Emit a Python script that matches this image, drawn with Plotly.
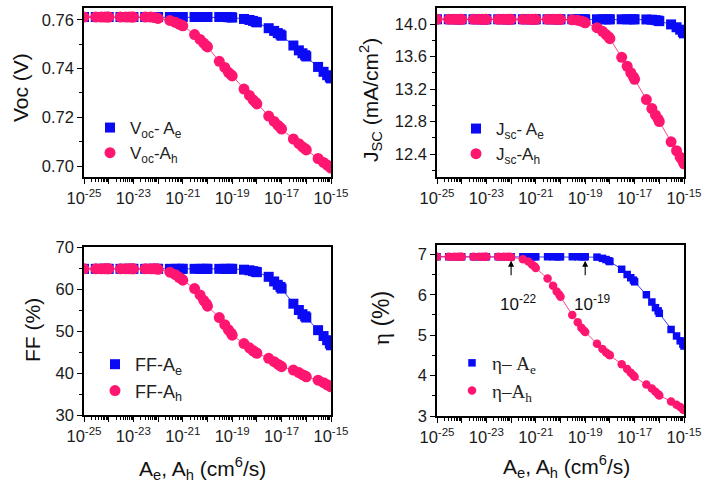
import plotly.graph_objects as go

# ---------------- data ----------------
decades = [-25, -24, -23, -22, -21, -20, -19, -18, -17, -16]
multipliers = [1, 3, 5, 7, 9]
last_A = 1e-15
A = [m * 10.0 ** d for d in decades for m in multipliers] + [last_A]

voc_Ae = [
    0.7612, 0.7612, 0.7612, 0.7612, 0.7612,
    0.7612, 0.7612, 0.7612, 0.7612, 0.7612,
    0.7612, 0.7612, 0.7612, 0.7612, 0.7612,
    0.7612, 0.7612, 0.7612, 0.7612, 0.7612,
    0.7612, 0.7612, 0.7612, 0.7612, 0.7612,
    0.7612, 0.7612, 0.7612, 0.7611, 0.7611,
    0.7610, 0.7604, 0.7600, 0.7596, 0.7592,
    0.7590, 0.7566, 0.7555, 0.7546, 0.7540,
    0.7535, 0.7495, 0.7475, 0.7463, 0.7455,
    0.7450, 0.7407, 0.7387, 0.7373, 0.7364,
    0.7360]
voc_Ah = [
    0.7612, 0.7612, 0.7612, 0.7612, 0.7612,
    0.7612, 0.7612, 0.7612, 0.7612, 0.7612,
    0.7612, 0.7612, 0.7612, 0.7610, 0.7608,
    0.7606, 0.7598, 0.7590, 0.7583, 0.7579,
    0.7576, 0.7540, 0.7520, 0.7505, 0.7494,
    0.7489, 0.7430, 0.7405, 0.7385, 0.7375,
    0.7370, 0.7316, 0.7290, 0.7272, 0.7261,
    0.7255, 0.7205, 0.7183, 0.7168, 0.7158,
    0.7152, 0.7111, 0.7092, 0.7079, 0.7071,
    0.7066, 0.7031, 0.7015, 0.7004, 0.6996,
    0.6992]

jsc_Ae = [
    14.058, 14.058, 14.058, 14.058, 14.058,
    14.058, 14.058, 14.058, 14.058, 14.058,
    14.058, 14.058, 14.058, 14.058, 14.058,
    14.058, 14.058, 14.058, 14.058, 14.058,
    14.058, 14.058, 14.058, 14.058, 14.058,
    14.058, 14.058, 14.058, 14.058, 14.058,
    14.058, 14.058, 14.058, 14.058, 14.058,
    14.058, 14.058, 14.058, 14.058, 14.058,
    14.058, 14.056, 14.053, 14.048, 14.042,
    14.035, 13.995, 13.960, 13.930, 13.900,
    13.885]
jsc_Ah = [
    14.058, 14.058, 14.058, 14.058, 14.058,
    14.058, 14.058, 14.058, 14.058, 14.058,
    14.058, 14.058, 14.058, 14.058, 14.058,
    14.058, 14.058, 14.058, 14.058, 14.058,
    14.058, 14.058, 14.058, 14.058, 14.058,
    14.058, 14.052, 14.045, 14.035, 14.025,
    14.015, 13.955, 13.910, 13.870, 13.840,
    13.820, 13.590, 13.480, 13.400, 13.350,
    13.320, 13.070, 12.960, 12.880, 12.830,
    12.800, 12.550, 12.440, 12.360, 12.310,
    12.280]

ff_Ae = [
    64.8, 64.8, 64.8, 64.8, 64.8,
    64.8, 64.8, 64.8, 64.8, 64.8,
    64.8, 64.8, 64.8, 64.8, 64.8,
    64.8, 64.8, 64.8, 64.8, 64.8,
    64.8, 64.8, 64.8, 64.8, 64.8,
    64.8, 64.8, 64.8, 64.8, 64.8,
    64.8, 64.6, 64.45, 64.25, 64.1,
    64.0, 62.9, 61.8, 61.0, 60.5,
    60.1, 56.5, 55.0, 54.0, 53.5,
    53.2, 50.2, 48.8, 47.8, 47.0,
    46.6]
ff_Ah = [
    64.8, 64.8, 64.8, 64.8, 64.8,
    64.8, 64.8, 64.8, 64.8, 64.8,
    64.8, 64.8, 64.8, 64.8, 64.8,
    64.7, 64.0, 63.4, 62.8, 62.4,
    62.1, 60.1, 58.6, 57.3, 56.5,
    55.9, 53.2, 51.5, 50.3, 49.5,
    49.0, 47.0, 46.0, 45.3, 44.9,
    44.7, 43.5, 42.7, 42.1, 41.7,
    41.5, 40.7, 40.1, 39.6, 39.3,
    39.1, 38.3, 37.7, 37.2, 36.9,
    36.7]

eta_Ae = [
    6.94, 6.94, 6.94, 6.94, 6.94,
    6.94, 6.94, 6.94, 6.94, 6.94,
    6.94, 6.94, 6.94, 6.94, 6.94,
    6.94, 6.94, 6.94, 6.94, 6.94,
    6.94, 6.94, 6.94, 6.94, 6.94,
    6.94, 6.94, 6.94, 6.94, 6.94,
    6.94, 6.93, 6.90, 6.87, 6.84,
    6.82, 6.63, 6.50, 6.42, 6.36,
    6.32, 6.00, 5.82, 5.68, 5.60,
    5.54, 5.14, 4.98, 4.86, 4.78,
    4.73]
eta_Ah = [
    6.94, 6.94, 6.94, 6.94, 6.94,
    6.94, 6.94, 6.94, 6.94, 6.94,
    6.94, 6.94, 6.94, 6.94, 6.94,
    6.93, 6.88, 6.82, 6.75, 6.70,
    6.66, 6.40, 6.22, 6.08, 6.00,
    5.95, 5.50, 5.32, 5.18, 5.11,
    5.08, 4.79, 4.66, 4.57, 4.52,
    4.50, 4.28, 4.16, 4.07, 4.00,
    3.97, 3.78, 3.68, 3.60, 3.54,
    3.51, 3.36, 3.28, 3.22, 3.17,
    3.15]

x_tick_exponents = [-25, -24, -23, -22, -21, -20, -19, -18, -17, -16, -15]
arrow_marks = [-22, -19]

# ---------------- style ----------------
BLUE = "#0a0af5"
PINK = "#ff1670"
SANS = "Liberation Sans, Arial, sans-serif"
SERIF = "Liberation Serif, Times New Roman, serif"

fig = go.Figure()

panels = [
    ("", voc_Ae, voc_Ah, "V<sub>oc</sub>- A<sub>e</sub>", "V<sub>oc</sub>-A<sub>h</sub>", "legend", 11),
    ("2", jsc_Ae, jsc_Ah, "J<sub>sc</sub>- A<sub>e</sub>", "J<sub>sc</sub>-A<sub>h</sub>", "legend2", 11),
    ("3", ff_Ae, ff_Ah, "FF-A<sub>e</sub>", "FF-A<sub>h</sub>", "legend3", 11),
    ("4", eta_Ae, eta_Ah, "\u03b7\u2013 A<sub>e</sub>", "\u03b7\u2013A<sub>h</sub>", "legend4", 8.5),
]

for suf, ye, yh, ne, nh, leg, ms in panels:
    for yy, col in [(ye, BLUE), (yh, PINK)]:
        fig.add_trace(go.Scatter(
            x=A, y=yy, mode="lines", showlegend=False, hoverinfo="skip",
            xaxis="x" + suf, yaxis="y" + suf,
            line=dict(color=col, width=0.8),
        ))
    fig.add_trace(go.Scatter(
        x=A, y=ye, name=ne, mode="markers",
        xaxis="x" + suf, yaxis="y" + suf, legend=leg,
        marker=dict(symbol="square", size=ms - 1, color=BLUE),
    ))
    fig.add_trace(go.Scatter(
        x=A, y=yh, name=nh, mode="markers",
        xaxis="x" + suf, yaxis="y" + suf, legend=leg,
        marker=dict(symbol="circle", size=ms, color=PINK),
    ))

W, H = 706, 486


def px_x(a, b):
    return [a / W, b / W]


def px_y(top, bottom):
    return [1 - bottom / H, 1 - top / H]


tick_text = []
for e in x_tick_exponents:
    tick_text.append("10<sup>%d</sup>" % e if e % 2 != 0 else "")
tick_vals = [10.0 ** e for e in x_tick_exponents]

TICKFONT = dict(family=SANS, size=16.5, color="#1a1a1a")

xcommon = dict(
    type="log", range=[-25, -15], showgrid=False, zeroline=False, automargin=False,
    showline=True, linecolor="black", linewidth=1.5, mirror=True,
    ticks="outside", ticklen=5, tickwidth=1.2, tickcolor="black",
    tickvals=tick_vals, ticktext=tick_text,
    tickfont=TICKFONT,
    minor=dict(ticks="outside", ticklen=3, tickcolor="black", tickwidth=1, dtick="D1"),
)
ycommon = dict(
    showgrid=False, zeroline=False, automargin=False,
    showline=True, linecolor="black", linewidth=1.5, mirror=True,
    ticks="outside", ticklen=5, tickwidth=1.2, tickcolor="black",
    tickfont=TICKFONT,
)

doms = {
    "": (px_x(84, 331), px_y(8, 177)),
    "2": (px_x(437, 684), px_y(8, 177)),
    "3": (px_x(84, 331), px_y(247, 415)),
    "4": (px_x(437, 684), px_y(245, 416)),
}
yspecs = {
    "": dict(range=[0.6955, 0.7649], tickvals=[0.70, 0.72, 0.74, 0.76], tickformat=".2f",
             minor=dict(ticks="outside", ticklen=3, tickcolor="black", dtick=0.01)),
    "2": dict(range=[12.117, 14.197], tickvals=[12.4, 12.8, 13.2, 13.6, 14.0], tickformat=".1f",
              minor=dict(ticks="outside", ticklen=3, tickcolor="black", dtick=0.2)),
    "3": dict(range=[30, 70], tickvals=[30, 40, 50, 60, 70],
              minor=dict(ticks="outside", ticklen=3, tickcolor="black", dtick=5)),
    "4": dict(range=[3, 7.23], tickvals=[3, 4, 5, 6, 7],
              minor=dict(ticks="outside", ticklen=3, tickcolor="black", dtick=0.5)),
}

layout_axes = {}
for suf, (dx, dy) in doms.items():
    xa = dict(xcommon)
    xa["domain"] = dx
    xa["anchor"] = "y" + suf
    ya = dict(ycommon)
    ya.update(yspecs[suf])
    ya["domain"] = dy
    ya["anchor"] = "x" + suf
    layout_axes["xaxis" + suf] = xa
    layout_axes["yaxis" + suf] = ya

fig.update_layout(**layout_axes)


def legend_at(left_px, top_px, family, size=17):
    return dict(
        x=left_px / W, y=1 - top_px / H, xanchor="left", yanchor="top",
        bgcolor="rgba(0,0,0,0)", borderwidth=0,
        font=dict(family=family, size=size, color="#222"),
        itemsizing="trace", tracegroupgap=0,
    )


fig.update_layout(
    width=W, height=H,
    margin=dict(l=0, r=0, t=0, b=0),
    paper_bgcolor="white", plot_bgcolor="white",
    showlegend=True,
    legend=legend_at(90, 110, SANS),
    legend2=legend_at(456, 111, SANS),
    legend3=legend_at(95, 346, SANS, 18),
    legend4=legend_at(452, 344, SERIF, 19),
)

annots = []
title_font = dict(family=SANS, size=21, color="#111")


def title(text, cx, cy, angle=0, font=title_font):
    return dict(text=text, x=cx / W, y=1 - cy / H, xref="paper", yref="paper",
                xanchor="center", yanchor="middle", textangle=angle,
                showarrow=False, font=font)


annots.append(title("Voc (V)", 20, 88, -90))
annots.append(title("J<sub>SC</sub> (mA/cm<sup>2</sup>)", 371, 100, -90))
annots.append(title("FF (%)", 32, 330, -90))
annots.append(title("<span style='font-family:Liberation Serif'>\u03b7</span> (%)", 381, 318, -90,
                    dict(family=SANS, size=23, color="#111")))
for cx, cy in [(202, 468), (566, 466)]:
    annots.append(title("A<sub>e</sub>, A<sub>h</sub> (cm<sup>6</sup>/s)", cx, cy))

for e in arrow_marks:
    annots.append(dict(x=e, y=6.84, xref="x4", yref="y4", text="", showarrow=True,
                       ax=0, ay=16, arrowhead=2, arrowsize=1.1, arrowwidth=1.1, arrowcolor="black"))
    annots.append(dict(x=e, y=5.79, xref="x4", yref="y4", text="10<sup>%d</sup>" % e,
                       xanchor="center", yanchor="middle",
                       xshift=7, showarrow=False, font=dict(family=SANS, size=17, color="#111")))

fig.update_layout(annotations=annots)

fig.write_html("out.html")
